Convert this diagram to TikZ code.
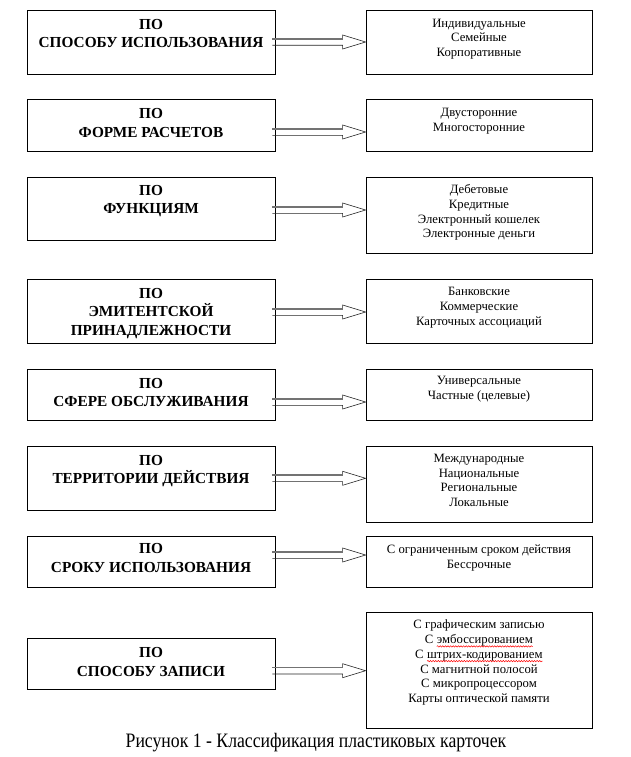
\documentclass[tikz,border=0pt]{standalone}
\usepackage{fontspec}
\setmainfont{Liberation Serif}
\usetikzlibrary{calc,decorations.pathmorphing}
\newcommand\spellerr[1]{\tikz[baseline=(w.base)]{\node[inner sep=0pt,outer sep=0pt,anchor=base] (w) at (0,0) {#1}; \draw[red, line width=0.5pt, decorate, decoration={snake, amplitude=0.7pt, segment length=2.6pt}] ([yshift=-2.8pt]w.base west) -- ([yshift=-2.8pt]w.base east);}}
\newcommand\blockarrow[3]{%
  \path (#1.east |- 0,#3) coordinate (ba) (#2.west |- 0,#3) coordinate (bb);
  \draw[arrowline] ($(ba)+(-3,-3.3)$) -- ($(bb)+(-23,-3.3)$) -- ($(bb)+(-23,-7)$) -- (bb)
    -- ($(bb)+(-23,7)$) -- ($(bb)+(-23,3.3)$) -- ($(ba)+(-3,3.3)$);
  \draw[arrowtop] ($(ba)+(-3,-3.3)$) -- ($(bb)+(-23,-3.3)$);
}
\begin{document}
\begin{tikzpicture}[x=1pt,y=-1pt,
  box/.style={draw=black, line width=0.8pt, fill=white, inner sep=0pt},
  lbox/.style={box, minimum width=248pt},
  rbox/.style={box, minimum width=226pt},
  ltext/.style={anchor=north, inner sep=0pt, align=center, font=\fontsize{15.3}{18.5}\selectfont\bfseries},
  rtext/.style={anchor=north, inner sep=0pt, align=center, font=\fontsize{12.7}{14.7}\selectfont},
  arrowline/.style={draw=black!85, line width=0.6pt},
  arrowtop/.style={draw=black!55, line width=1.8pt}]
\useasboundingbox (0,0) rectangle (630,757);
\fill[white] (0,0) rectangle (630,757);
% row 1
\node[lbox, minimum height=63.3pt] (L1) at (151,42.35) {};
\node[rbox, minimum height=63.3pt] (R1) at (479,42.35) {};
\node[ltext] (LT1) at ([yshift=-8.5pt]L1.north) {ПО\\СПОСОБУ ИСПОЛЬЗОВАНИЯ};
\node[rtext] (RT1) at ([yshift=-8.3pt]R1.north) {Индивидуальные\\Семейные\\Корпоративные};
% row 2
\node[lbox, minimum height=51.7pt] (L2) at (151,125.15) {};
\node[rbox, minimum height=51.7pt] (R2) at (479,125.15) {};
\node[ltext] (LT2) at ([yshift=-9.5pt]L2.north) {ПО\\ФОРМЕ РАСЧЕТОВ};
\node[rtext] (RT2) at ([yshift=-9pt]R2.north) {Двусторонние\\Многосторонние};
% row 3
\node[lbox, minimum height=63pt] (L3) at (151,208.5) {};
\node[rbox, minimum height=76pt] (R3) at (479,215) {};
\node[ltext] (LT3) at ([yshift=-8.5pt]L3.north) {ПО\\ФУНКЦИЯМ};
\node[rtext] (RT3) at ([yshift=-8pt]R3.north) {Дебетовые\\Кредитные\\Электронный кошелек\\Электронные деньги};
% row 4
\node[lbox, minimum height=63.7pt] (L4) at (151,311.15) {};
\node[rbox, minimum height=63.7pt] (R4) at (479,311.15) {};
\node[ltext] (LT4) at ([yshift=-9pt]L4.north) {ПО\\ЭМИТЕНТСКОЙ\\ПРИНАДЛЕЖНОСТИ};
\node[rtext] (RT4) at ([yshift=-8.5pt]R4.north) {Банковские\\Коммерческие\\Карточных ассоциаций};
% row 5
\node[lbox, minimum height=51pt] (L5) at (151,394.8) {};
\node[rbox, minimum height=51pt] (R5) at (479,394.8) {};
\node[ltext] (LT5) at ([yshift=-9pt]L5.north) {ПО\\СФЕРЕ ОБСЛУЖИВАНИЯ};
\node[rtext] (RT5) at ([yshift=-7.5pt]R5.north) {Универсальные\\Частные (целевые)};
% row 6
\node[lbox, minimum height=63.6pt] (L6) at (151,478.5) {};
\node[rbox, minimum height=75.6pt] (R6) at (479,484.5) {};
\node[ltext] (LT6) at ([yshift=-8.5pt]L6.north) {ПО\\ТЕРРИТОРИИ ДЕЙСТВИЯ};
\node[rtext] (RT6) at ([yshift=-7.5pt]R6.north) {Международные\\Национальные\\Региональные\\Локальные};
% row 7
\node[lbox, minimum height=51.3pt] (L7) at (151,561.65) {};
\node[rbox, minimum height=51.3pt] (R7) at (479,561.65) {};
\node[ltext] (LT7) at ([yshift=-8pt]L7.north) {ПО\\СРОКУ ИСПОЛЬЗОВАНИЯ};
\node[rtext] (RT7) at ([yshift=-8.8pt]R7.north) {С ограниченным сроком действия\\Бессрочные};
% row 8
\node[lbox, minimum height=50.6pt] (L8) at (151,664) {};
\node[rbox, minimum height=115.7pt] (R8) at (479,670.15) {};
\node[ltext] (LT8) at ([yshift=-9pt]L8.north) {ПО\\СПОСОБУ ЗАПИСИ};
\node[rtext] (RT8) at ([yshift=-8pt]R8.north) {С графическим записью\\С \spellerr{эмбоссированием}\\С \spellerr{штрих-кодированием}\\С магнитной полосой\\С микропроцессором\\Карты оптической памяти};
% arrows
\blockarrow{L1}{R1}{42}
\blockarrow{L2}{R2}{132}
\blockarrow{L3}{R3}{210}
\blockarrow{L4}{R4}{312}
\blockarrow{L5}{R5}{402}
\blockarrow{L6}{R6}{478.3}
\blockarrow{L7}{R7}{555}
\blockarrow{L8}{R8}{670.7}
% caption
\node[inner sep=0pt, anchor=base, font=\fontsize{20.5}{24}\selectfont] (cap) at (316,747.3) {\scalebox{0.864}[1]{Рисунок 1 - Классификация пластиковых карточек}};
\end{tikzpicture}
\end{document}
